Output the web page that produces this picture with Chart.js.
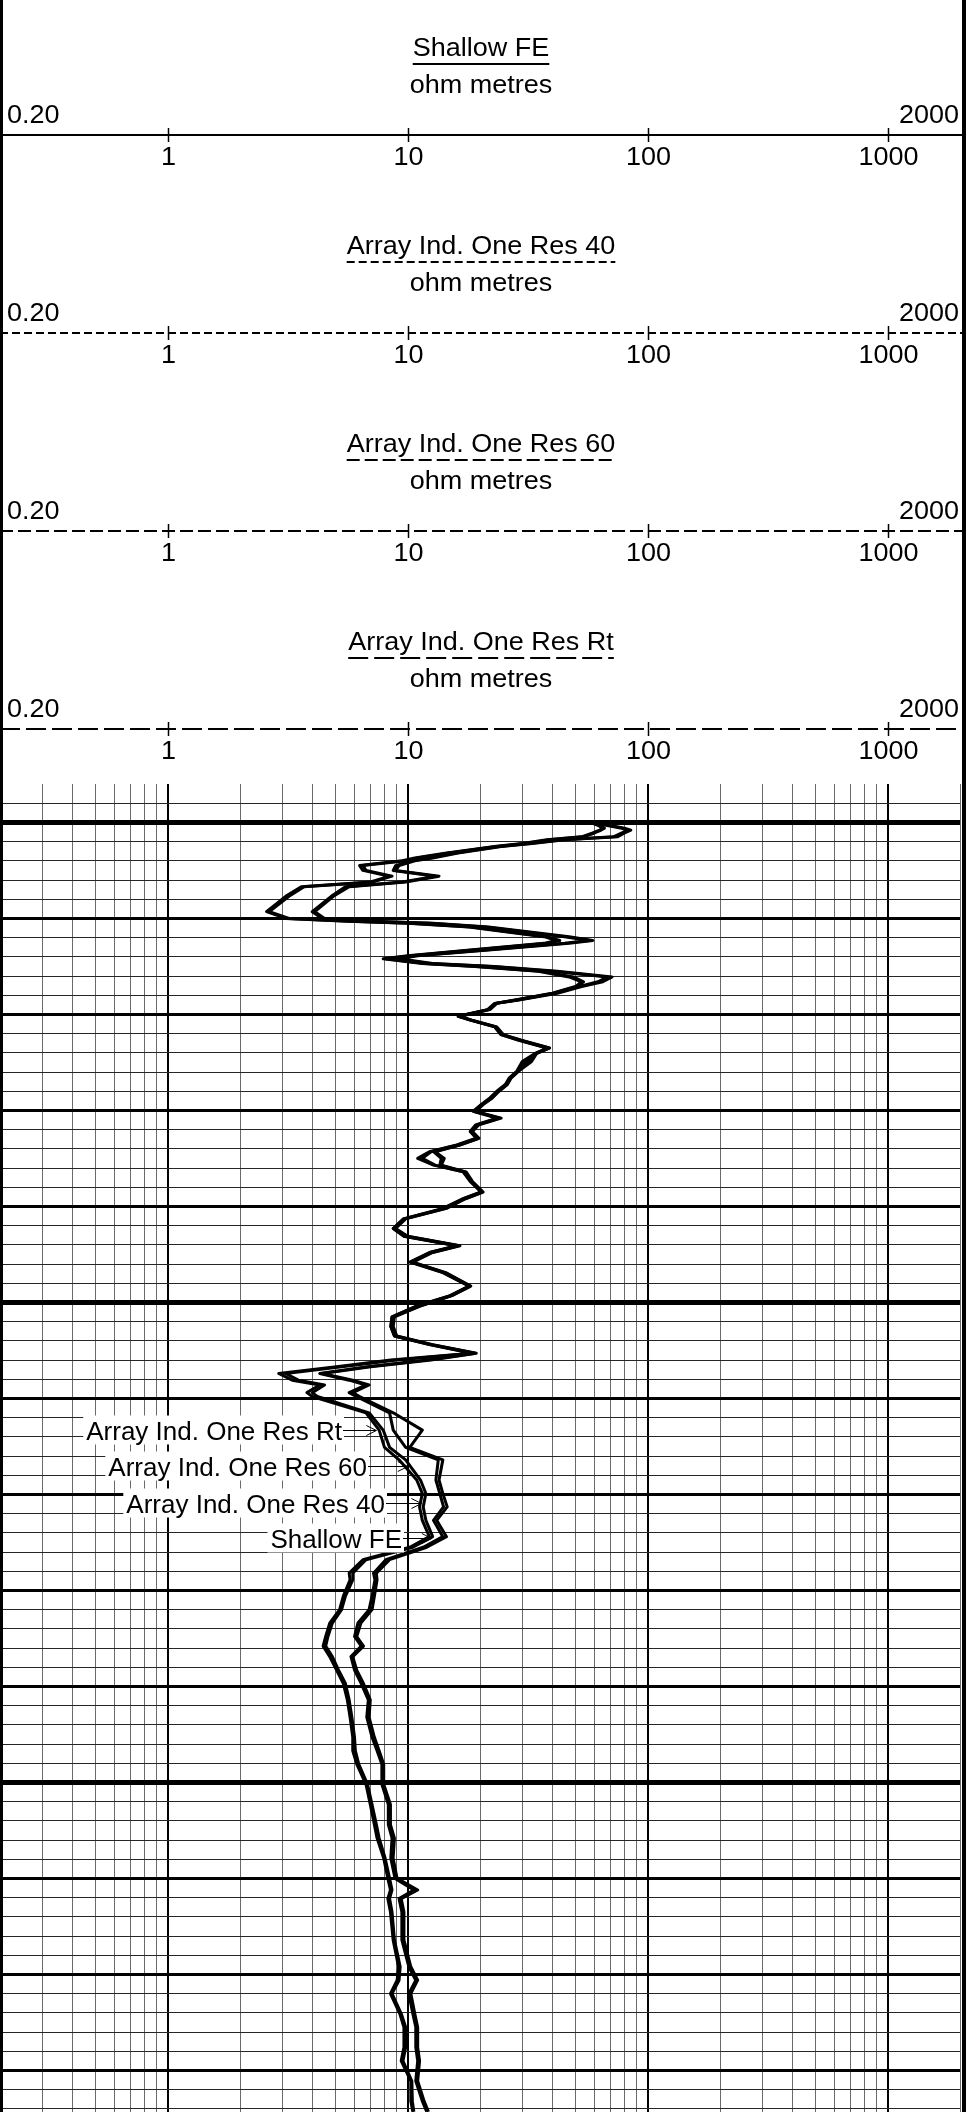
<!DOCTYPE html>
<html>
<head>
<meta charset="utf-8">
<title>Resistivity log</title>
<script src="https://cdn.jsdelivr.net/npm/chart.js@4/dist/chart.umd.min.js"></script>
<style>
  html, body { margin: 0; padding: 0; background: #ffffff; }
  canvas { display: block; }
</style>
</head>
<body>
<canvas id="log" width="971" height="2112"></canvas>
<script>
// ---- Log data: depth (m) and resistivity (ohm metres) per curve ----
const depth = [
  1200.1, 1200.3, 1200.6, 1200.8, 1201.1, 1201.5, 1201.8, 1202.2, 1202.5, 1203.2,
  1203.7, 1204.0, 1204.5, 1205.0, 1205.6, 1206.2, 1206.7, 1207.7, 1209.3, 1210.0,
  1210.3, 1210.5, 1210.9, 1211.9, 1212.3, 1212.6, 1213.3, 1213.9, 1214.2, 1214.7,
  1215.0, 1215.5, 1216.1, 1216.6, 1217.1, 1217.8, 1218.5, 1218.85, 1219.5, 1220.2,
  1220.6, 1221.3, 1222.1, 1222.7, 1223.5, 1224.05, 1224.9, 1225.9, 1226.6, 1227.3,
  1228.0, 1228.7, 1229.4, 1230.1, 1230.8, 1231.5, 1232.2, 1232.9, 1233.6, 1234.3,
  1235.0, 1235.7, 1236.4, 1237.4, 1238.5, 1239.2, 1240.2, 1241.3, 1242.3, 1243.1,
  1244.1, 1244.8, 1245.8, 1246.9, 1248.3, 1249.3, 1250.4, 1251.5, 1252.5, 1253.5,
  1254.4, 1255.3, 1256.0, 1256.7, 1257.4, 1258.1, 1258.6, 1259.4, 1259.8, 1261.5,
  1263.3, 1265.1, 1266.4, 1268.5, 1269.9, 1271.3, 1272.7, 1274.4, 1275.5, 1276.8,
  1278.2, 1278.9, 1280.6, 1282.0, 1283.4, 1284.8, 1285.8, 1286.9, 1288.3, 1289.7,
  1291.4, 1293.2, 1295.3, 1296.7, 1298.1, 1300.2, 1302.3, 1304.4, 1305.8, 1307.9,
  1310.0, 1311.2, 1312.1, 1313.5, 1316.4, 1319.2, 1320.6, 1322.0, 1324.1, 1325.5,
  1327.6, 1329.0, 1331.1, 1333.2, 1334.3
];
const shallowFE = [
  62, 69, 80, 85, 80, 75, 45, 33, 24.5, 16.2,
  12.7, 10.7, 9.2, 8.9, 13.5, 9.8, 5.7, 4.9, 4.1, 4.5,
  7.0, 12.7, 21.7, 47, 59, 47, 21.7, 11, 9.2, 12.7,
  23, 42, 71, 65, 53, 42, 29, 23.5, 22, 16.5,
  18.5, 23.5, 25, 30, 39, 34.5, 32.8, 29, 27, 26,
  24, 22.5, 20.6, 19.2, 24.5, 19.8, 18.6, 19.8, 16.5, 13,
  14.2, 13.8, 17.5, 18.6, 20.6, 17.4, 14.5, 9.8, 8.9, 10,
  16.5, 12.7, 10.5, 14.4, 18.3, 15.3, 11.2, 8.8, 8.7, 9.0,
  12.7, 19.3, 12.5, 7.0, 4.4, 5.9, 6.9, 5.9, 6.3, 8.7,
  11.5, 10.2, 14.0, 13.5, 14, 14.6, 13.2, 14.5, 12, 8.4,
  7.4, 7.45, 7.26, 7.1, 6.38, 6.13, 6.54, 5.9, 6.13, 6.54,
  6.98, 6.9, 7.26, 7.6, 7.94, 7.94, 8.47, 8.47, 8.8, 8.69,
  9.03, 11.0, 9.39, 9.64, 9.64, 10.3, 11, 10.3, 10.7, 11,
  11, 11.2, 11, 11.7, 12.2
];
const res40 = [
  61, 67, 78, 82, 78, 72, 44, 32, 24, 15.8,
  12.3, 10.4, 8.9, 8.7, 13.1, 9.5, 5.5, 4.8, 4.0, 4.4,
  6.8, 12.3, 21, 45, 57, 45, 21, 10.7, 8.9, 12.3,
  22.3, 40, 68, 62, 52, 41, 28.6, 23.3, 21.8, 16.4,
  18.4, 23.3, 24.8, 29.7, 38.7, 34.4, 32, 28.9, 26.9, 25.9,
  23.9, 22.4, 20.5, 19, 24.2, 19.6, 18.5, 19.7, 16.4, 12.8,
  13.8, 13.6, 17.3, 18.5, 20.5, 17.3, 14.4, 9.7, 8.8, 9.9,
  16.3, 12.6, 10.4, 14.3, 18.2, 15.2, 11.1, 8.7, 8.6, 8.9,
  12.6, 19.1, 12, 6.8, 4.3, 5.7, 6.7, 5.7, 6.1, 8.4,
  8.7, 9.8, 13.4, 13.1, 13.6, 14.1, 12.8, 14.0, 11.6, 8.1,
  7.2, 7.3, 7.1, 6.9, 6.2, 6.0, 6.4, 5.8, 6.0, 6.4,
  6.85, 6.75, 7.1, 7.45, 7.8, 7.8, 8.3, 8.3, 8.6, 8.5,
  8.85, 10.6, 9.2, 9.45, 9.45, 10.1, 10.8, 10.1, 10.5, 10.8,
  10.8, 11.0, 10.8, 11.5, 12.0
];
const res60 = [
  60, 63, 66, 64, 60, 54, 39, 31, 23.5, 14.6,
  11, 9.8, 6.5, 6.7, 8.6, 7.2, 3.7, 3.2, 2.65, 3.2,
  5.8, 10.3, 18.5, 38, 43, 38, 18.7, 10.3, 8.1, 11.8,
  19.5, 36, 49, 54, 51, 40.5, 28.3, 23.2, 21.6, 16.3,
  18.3, 23.2, 24.6, 29.3, 38.3, 34.2, 31, 28.7, 26.7, 25.7,
  23.7, 22.2, 20.3, 18.9, 23.8, 19.4, 18.3, 19.5, 16.2, 12.5,
  11.5, 13, 17.1, 18.3, 20.3, 17.1, 14.2, 9.6, 8.7, 9.7,
  16.1, 12.4, 10.3, 14.1, 18.1, 15.1, 10.9, 8.6, 8.5, 8.8,
  12.4, 18.7, 9, 5.3, 3.1, 3.5, 4.5, 4.0, 4.2, 6.9,
  7.9, 8.4, 9.8, 11.3, 11.9, 11.6, 11.9, 12.7, 10.5, 6.7,
  5.9, 5.9, 5.5, 5.3, 4.85, 4.65, 4.55, 4.85, 5.15, 5.5,
  5.7, 5.85, 6.0, 6.05, 6.25, 6.8, 7.1, 7.4, 7.6, 8.05,
  8.4, 8.6, 8.4, 8.6, 8.8, 9.3, 9.2, 8.6, 9.4, 9.8,
  9.8, 9.55, 10.4, 10.45, 10.6
];
const resRt = [
  59, 62, 65, 63, 59, 53, 38, 30, 23, 14.3,
  10.7, 9.5, 6.3, 6.5, 8.4, 7.0, 3.6, 3.1, 2.58, 3.1,
  5.6, 10, 18, 37, 41.7, 37, 18.2, 10, 7.9, 11.5,
  19, 35, 47, 53, 50, 40, 28, 23, 21.5, 16.2,
  18.2, 23, 24.4, 29, 38, 34, 30, 28.5, 26.5, 25.5,
  23.5, 22, 20.2, 18.7, 23.5, 19.2, 18.2, 19.3, 16, 12.3,
  11, 12.8, 17, 18.2, 20.2, 17, 14, 9.6, 8.7, 9.6,
  16, 12.3, 10.2, 14, 18, 15, 10.8, 8.6, 8.5, 8.8,
  12.3, 18.5, 8.5, 5.05, 2.9, 3.3, 4.3, 3.8, 4.0, 6.7,
  7.6, 8.0, 9.2, 10.9, 11.5, 11.2, 11.5, 12.3, 10.2, 6.5,
  5.7, 5.75, 5.39, 5.2, 4.73, 4.55, 4.44, 4.73, 5.05, 5.39,
  5.6, 5.75, 5.9, 5.9, 6.13, 6.7, 6.98, 7.26, 7.45, 7.94,
  8.26, 8.47, 8.26, 8.47, 8.69, 9.15, 9.03, 8.47, 9.27, 9.64,
  9.64, 9.39, 10.3, 10.3, 10.5
];

// ---- Track scale and header text ----
const scaleMin = 0.2;
const scaleMax = 2000;
const scaleTicks = [1, 10, 100, 1000];
const scaleEndLabels = ['0.20', '2000'];
const unitLabel = 'ohm metres';
const curveNames = ['Shallow FE', 'Array Ind. One Res 40', 'Array Ind. One Res 60', 'Array Ind. One Res Rt'];
const curveValues = [shallowFE, res40, res60, resRt];
const curveDashes = [[], [8, 4], [13, 5], [20, 6]];

// curve name tags inside the track: which curve, depth of the arrow, value the arrow points at
const tagSeries = [3, 2, 1, 0];
const tagDepths = [1263.3, 1267.0, 1270.9, 1274.5];
const tagTipValues = [7.4, 10.0, 11.4, 12.6];

// log grid: 1..9 inside every decade
const xGrid = [];
for (let e = -1; e <= 3; e++) {
  for (let m = 1; m <= 9; m++) {
    const v = +(m * Math.pow(10, e)).toPrecision(3);
    if (v >= scaleMin - 1e-9 && v <= scaleMax + 1e-9) xGrid.push(v);
  }
}
xGrid.push(2000);
const depthTop = 1196;
const depthBottom = 1334.33;
const yGrid = [];
for (let d = 1198; d <= 1334; d += 2) yGrid.push(d);

const isDecade = v => Math.abs(Math.log10(v) - Math.round(Math.log10(v))) < 1e-6;

// ---- header / border / curve-tag drawing ----
const headerFont = '25px "Liberation Sans", Arial, sans-serif';
const tagFont = '26px "Liberation Sans", Arial, sans-serif';
const headerStep = 198;
const headerStretch = 1.08;
const tagTextRight = [342, 367, 385, 402];

function stretchedText(ctx, text, x, y, align) {
  ctx.save();
  ctx.translate(x, y);
  ctx.scale(headerStretch, 1);
  ctx.textAlign = align;
  ctx.fillText(text, 0, 0);
  ctx.restore();
}

const logDecor = {
  id: 'logDecor',
  afterDraw(chart) {
    const ctx = chart.ctx;
    const xs = chart.scales.x;
    const ys = chart.scales.y;
    const mid = (chart.chartArea.left + chart.chartArea.right) / 2 + 1;
    ctx.save();
    ctx.fillStyle = '#000';
    ctx.strokeStyle = '#000';
    ctx.font = headerFont;
    ctx.textBaseline = 'alphabetic';

    curveNames.forEach((name, k) => {
      const off = k * headerStep;
      // title, underline drawn in the curve's line style, unit
      stretchedText(ctx, name, mid, 56 + off, 'center');
      const w = ctx.measureText(name).width * headerStretch;
      ctx.lineWidth = 2;
      ctx.setLineDash(curveDashes[k]);
      ctx.beginPath();
      ctx.moveTo(mid - w / 2, 64 + off);
      ctx.lineTo(mid + w / 2, 64 + off);
      ctx.stroke();
      ctx.setLineDash([]);
      stretchedText(ctx, unitLabel, mid, 93 + off, 'center');
      // scale end values
      stretchedText(ctx, scaleEndLabels[0], 7, 123 + off, 'left');
      stretchedText(ctx, scaleEndLabels[1], 959, 123 + off, 'right');
      // scale line
      ctx.lineWidth = 2;
      ctx.setLineDash(curveDashes[k]);
      ctx.beginPath();
      ctx.moveTo(0, 135 + off);
      ctx.lineTo(963, 135 + off);
      ctx.stroke();
      ctx.setLineDash([]);
      // ticks and their values
      ctx.lineWidth = 1.5;
      scaleTicks.forEach(t => {
        const px = Math.round(xs.getPixelForValue(t)) + 0.5;
        ctx.beginPath();
        ctx.moveTo(px, 128 + off);
        ctx.lineTo(px, 142 + off);
        ctx.stroke();
        stretchedText(ctx, String(t), px, 165 + off, 'center');
      });
    });

    // curve name tags with arrows
    ctx.font = tagFont;
    tagSeries.forEach((s, i) => {
      const y = Math.round(ys.getPixelForValue(tagDepths[i])) + 0.5;
      const text = curveNames[s];
      const right = tagTextRight[i];
      const w = ctx.measureText(text).width;
      ctx.fillStyle = '#fff';
      ctx.fillRect(right - w - 3, y - 15, w + 5, 29);
      ctx.fillStyle = '#000';
      ctx.textAlign = 'right';
      ctx.fillText(text, right, y + 9);
      const tip = xs.getPixelForValue(tagTipValues[i]);
      ctx.lineWidth = 1;
      ctx.beginPath();
      ctx.moveTo(right + 1, y);
      ctx.lineTo(tip, y);
      ctx.moveTo(tip - 10, y - 5);
      ctx.lineTo(tip, y);
      ctx.lineTo(tip - 10, y + 5);
      ctx.stroke();
    });

    // track borders
    ctx.fillStyle = '#000';
    ctx.fillRect(0, 0, 3, chart.height);
    ctx.fillRect(962, 0, 4, chart.height);
    ctx.restore();
  }
};

new Chart(document.getElementById('log'), {
  type: 'scatter',
  data: {
    datasets: curveNames.map((name, k) => ({
      label: name,
      data: depth.map((d, i) => ({ x: curveValues[k][i], y: d })),
      showLine: true,
      borderColor: '#000',
      borderWidth: 3,
      borderJoinStyle: 'round',
      pointRadius: 0,
      tension: 0,
      fill: false
    }))
  },
  options: {
    responsive: false,
    animation: false,
    events: [],
    layout: { padding: { top: 784, left: 0, right: 11, bottom: 0 } },
    plugins: { legend: { display: false }, tooltip: { enabled: false } },
    scales: {
      x: {
        type: 'logarithmic',
        position: 'top',
        min: scaleMin,
        max: scaleMax,
        afterBuildTicks: s => { s.ticks = xGrid.map(v => ({ value: v })); },
        ticks: { display: false },
        border: { display: false },
        grid: {
          drawTicks: false,
          color: c => isDecade(c.tick.value) ? '#000' : '#6a6a6a',
          lineWidth: c => isDecade(c.tick.value) ? 2 : 1
        }
      },
      y: {
        type: 'linear',
        reverse: true,
        min: depthTop,
        max: depthBottom,
        afterBuildTicks: s => { s.ticks = yGrid.map(v => ({ value: v })); },
        ticks: { display: false },
        border: { display: false },
        grid: {
          drawTicks: false,
          color: c => (c.tick.value % 10 === 0) ? '#000' : '#262626',
          lineWidth: c => (c.tick.value % 50 === 0) ? 5 : (c.tick.value % 10 === 0 ? 3 : 1)
        }
      }
    }
  },
  plugins: [logDecor]
});
</script>
</body>
</html>
